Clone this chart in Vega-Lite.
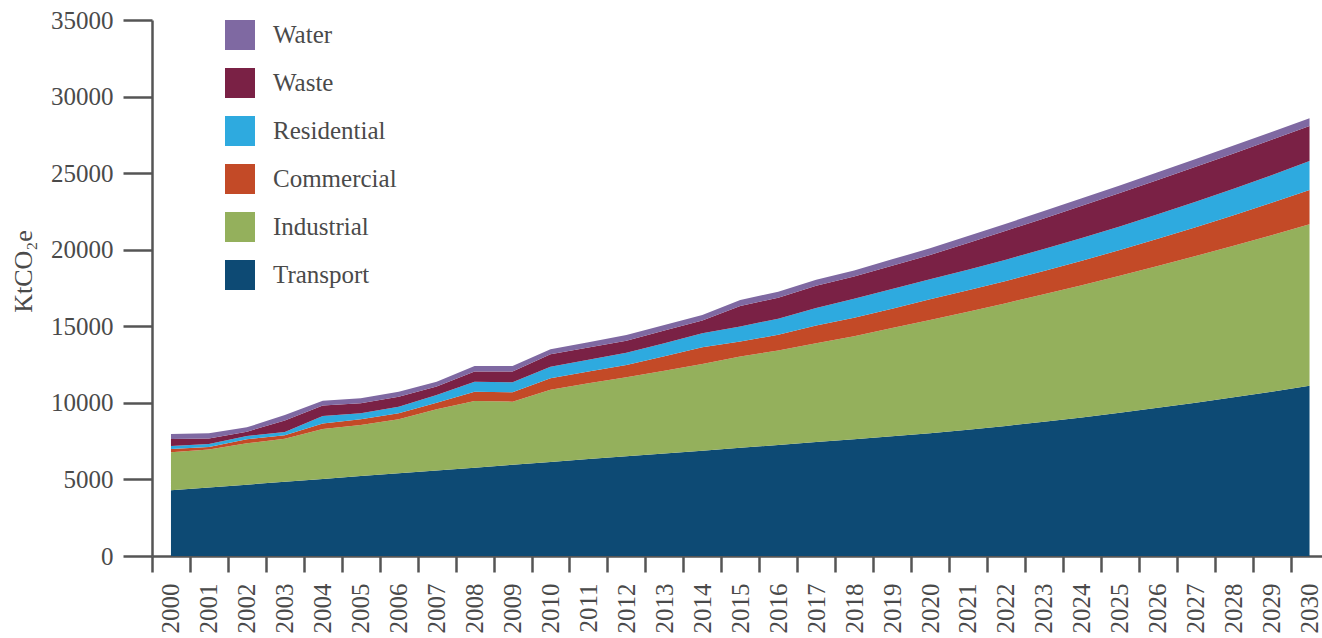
{
  "$schema": "https://vega.github.io/schema/vega-lite/v6.json",
  "width": 1170,
  "height": 536,
  "autosize": {"type": "none"},
  "padding": {"left": 152, "top": 20, "right": 0, "bottom": 82},
  "background": "white",
  "config": {
    "font": "Liberation Serif",
    "view": {"stroke": null}
  },
  "datasets": {
    "sectorOrder": [
      {"sector":"Transport","rank":1},{"sector":"Industrial","rank":2},{"sector":"Commercial","rank":3},{"sector":"Residential","rank":4},{"sector":"Waste","rank":5},{"sector":"Water","rank":6}
    ],
    "emissions": [
      {"year":2000,"sector":"Transport","value":4300},{"year":2000,"sector":"Industrial","value":2470},{"year":2000,"sector":"Commercial","value":220},{"year":2000,"sector":"Residential","value":190},{"year":2000,"sector":"Waste","value":460},{"year":2000,"sector":"Water","value":330},
      {"year":2001,"sector":"Transport","value":4480},{"year":2001,"sector":"Industrial","value":2480},{"year":2001,"sector":"Commercial","value":160},{"year":2001,"sector":"Residential","value":190},{"year":2001,"sector":"Waste","value":370},{"year":2001,"sector":"Water","value":330},
      {"year":2002,"sector":"Transport","value":4660},{"year":2002,"sector":"Industrial","value":2700},{"year":2002,"sector":"Commercial","value":260},{"year":2002,"sector":"Residential","value":220},{"year":2002,"sector":"Waste","value":280},{"year":2002,"sector":"Water","value":280},
      {"year":2003,"sector":"Transport","value":4850},{"year":2003,"sector":"Industrial","value":2810},{"year":2003,"sector":"Commercial","value":220},{"year":2003,"sector":"Residential","value":220},{"year":2003,"sector":"Waste","value":750},{"year":2003,"sector":"Water","value":360},
      {"year":2004,"sector":"Transport","value":5030},{"year":2004,"sector":"Industrial","value":3260},{"year":2004,"sector":"Commercial","value":370},{"year":2004,"sector":"Residential","value":480},{"year":2004,"sector":"Waste","value":680},{"year":2004,"sector":"Water","value":320},
      {"year":2005,"sector":"Transport","value":5220},{"year":2005,"sector":"Industrial","value":3330},{"year":2005,"sector":"Commercial","value":380},{"year":2005,"sector":"Residential","value":390},{"year":2005,"sector":"Waste","value":650},{"year":2005,"sector":"Water","value":330},
      {"year":2006,"sector":"Transport","value":5400},{"year":2006,"sector":"Industrial","value":3530},{"year":2006,"sector":"Commercial","value":390},{"year":2006,"sector":"Residential","value":430},{"year":2006,"sector":"Waste","value":650},{"year":2006,"sector":"Water","value":330},
      {"year":2007,"sector":"Transport","value":5590},{"year":2007,"sector":"Industrial","value":3990},{"year":2007,"sector":"Commercial","value":430},{"year":2007,"sector":"Residential","value":500},{"year":2007,"sector":"Waste","value":550},{"year":2007,"sector":"Water","value":320},
      {"year":2008,"sector":"Transport","value":5770},{"year":2008,"sector":"Industrial","value":4350},{"year":2008,"sector":"Commercial","value":610},{"year":2008,"sector":"Residential","value":650},{"year":2008,"sector":"Waste","value":660},{"year":2008,"sector":"Water","value":370},
      {"year":2009,"sector":"Transport","value":5960},{"year":2009,"sector":"Industrial","value":4120},{"year":2009,"sector":"Commercial","value":610},{"year":2009,"sector":"Residential","value":650},{"year":2009,"sector":"Waste","value":700},{"year":2009,"sector":"Water","value":370},
      {"year":2010,"sector":"Transport","value":6140},{"year":2010,"sector":"Industrial","value":4720},{"year":2010,"sector":"Commercial","value":740},{"year":2010,"sector":"Residential","value":750},{"year":2010,"sector":"Waste","value":830},{"year":2010,"sector":"Water","value":320},
      {"year":2011,"sector":"Transport","value":6330},{"year":2011,"sector":"Industrial","value":4950},{"year":2011,"sector":"Commercial","value":770},{"year":2011,"sector":"Residential","value":770},{"year":2011,"sector":"Waste","value":800},{"year":2011,"sector":"Water","value":340},
      {"year":2012,"sector":"Transport","value":6510},{"year":2012,"sector":"Industrial","value":5160},{"year":2012,"sector":"Commercial","value":800},{"year":2012,"sector":"Residential","value":810},{"year":2012,"sector":"Waste","value":780},{"year":2012,"sector":"Water","value":370},
      {"year":2013,"sector":"Transport","value":6700},{"year":2013,"sector":"Industrial","value":5400},{"year":2013,"sector":"Commercial","value":950},{"year":2013,"sector":"Residential","value":850},{"year":2013,"sector":"Waste","value":820},{"year":2013,"sector":"Water","value":370},
      {"year":2014,"sector":"Transport","value":6880},{"year":2014,"sector":"Industrial","value":5660},{"year":2014,"sector":"Commercial","value":1090},{"year":2014,"sector":"Residential","value":910},{"year":2014,"sector":"Waste","value":830},{"year":2014,"sector":"Water","value":370},
      {"year":2015,"sector":"Transport","value":7070},{"year":2015,"sector":"Industrial","value":5950},{"year":2015,"sector":"Commercial","value":980},{"year":2015,"sector":"Residential","value":980},{"year":2015,"sector":"Waste","value":1350},{"year":2015,"sector":"Water","value":390},
      {"year":2016,"sector":"Transport","value":7250},{"year":2016,"sector":"Industrial","value":6170},{"year":2016,"sector":"Commercial","value":1030},{"year":2016,"sector":"Residential","value":1050},{"year":2016,"sector":"Waste","value":1370},{"year":2016,"sector":"Water","value":390},
      {"year":2017,"sector":"Transport","value":7440},{"year":2017,"sector":"Industrial","value":6460},{"year":2017,"sector":"Commercial","value":1150},{"year":2017,"sector":"Residential","value":1150},{"year":2017,"sector":"Waste","value":1450},{"year":2017,"sector":"Water","value":390},
      {"year":2018,"sector":"Transport","value":7630},{"year":2018,"sector":"Industrial","value":6720},{"year":2018,"sector":"Commercial","value":1200},{"year":2018,"sector":"Residential","value":1250},{"year":2018,"sector":"Waste","value":1450},{"year":2018,"sector":"Water","value":400},
      {"year":2019,"sector":"Transport","value":7820},{"year":2019,"sector":"Industrial","value":7060},{"year":2019,"sector":"Commercial","value":1270},{"year":2019,"sector":"Residential","value":1280},{"year":2019,"sector":"Waste","value":1520},{"year":2019,"sector":"Water","value":420},
      {"year":2020,"sector":"Transport","value":8010},{"year":2020,"sector":"Industrial","value":7400},{"year":2020,"sector":"Commercial","value":1350},{"year":2020,"sector":"Residential","value":1310},{"year":2020,"sector":"Waste","value":1590},{"year":2020,"sector":"Water","value":430},
      {"year":2021,"sector":"Transport","value":8245},{"year":2021,"sector":"Industrial","value":7705},{"year":2021,"sector":"Commercial","value":1398},{"year":2021,"sector":"Residential","value":1346},{"year":2021,"sector":"Waste","value":1747},{"year":2021,"sector":"Water","value":449},
      {"year":2022,"sector":"Transport","value":8497},{"year":2022,"sector":"Industrial","value":8013},{"year":2022,"sector":"Commercial","value":1454},{"year":2022,"sector":"Residential","value":1388},{"year":2022,"sector":"Waste","value":1883},{"year":2022,"sector":"Water","value":467},
      {"year":2023,"sector":"Transport","value":8765},{"year":2023,"sector":"Industrial","value":8323},{"year":2023,"sector":"Commercial","value":1520},{"year":2023,"sector":"Residential","value":1434},{"year":2023,"sector":"Waste","value":2001},{"year":2023,"sector":"Water","value":483},
      {"year":2024,"sector":"Transport","value":9051},{"year":2024,"sector":"Industrial","value":8633},{"year":2024,"sector":"Commercial","value":1596},{"year":2024,"sector":"Residential","value":1484},{"year":2024,"sector":"Waste","value":2101},{"year":2024,"sector":"Water","value":497},
      {"year":2025,"sector":"Transport","value":9354},{"year":2025,"sector":"Industrial","value":8946},{"year":2025,"sector":"Commercial","value":1680},{"year":2025,"sector":"Residential","value":1540},{"year":2025,"sector":"Waste","value":2180},{"year":2025,"sector":"Water","value":500},
      {"year":2026,"sector":"Transport","value":9673},{"year":2026,"sector":"Industrial","value":9261},{"year":2026,"sector":"Commercial","value":1774},{"year":2026,"sector":"Residential","value":1600},{"year":2026,"sector":"Waste","value":2241},{"year":2026,"sector":"Water","value":515},
      {"year":2027,"sector":"Transport","value":10010},{"year":2027,"sector":"Industrial","value":9578},{"year":2027,"sector":"Commercial","value":1876},{"year":2027,"sector":"Residential","value":1666},{"year":2027,"sector":"Waste","value":2281},{"year":2027,"sector":"Water","value":519},
      {"year":2028,"sector":"Transport","value":10363},{"year":2028,"sector":"Industrial","value":9897},{"year":2028,"sector":"Commercial","value":1988},{"year":2028,"sector":"Residential","value":1736},{"year":2028,"sector":"Waste","value":2303},{"year":2028,"sector":"Water","value":519},
      {"year":2029,"sector":"Transport","value":10733},{"year":2029,"sector":"Industrial","value":10217},{"year":2029,"sector":"Commercial","value":2110},{"year":2029,"sector":"Residential","value":1810},{"year":2029,"sector":"Waste","value":2307},{"year":2029,"sector":"Water","value":515},
      {"year":2030,"sector":"Transport","value":11120},{"year":2030,"sector":"Industrial","value":10540},{"year":2030,"sector":"Commercial","value":2240},{"year":2030,"sector":"Residential","value":1890},{"year":2030,"sector":"Waste","value":2290},{"year":2030,"sector":"Water","value":500}
    ]
  },
  "data": {"name": "emissions"},
  "transform": [
    {"lookup": "sector", "from": {"data": {"name": "sectorOrder"}, "key": "sector", "fields": ["rank"]}}
  ],
  "mark": {"type": "area", "interpolate": "linear"},
  "encoding": {
    "x": {
      "field": "year",
      "type": "ordinal",
      "bandPosition": 0.5,
      "scale": {"type": "band", "paddingInner": 0, "paddingOuter": 0, "range": [0, 1176.5]},
      "axis": {
        "title": null,
        "tickBand": "extent",
        "labelAngle": -90,
        "labelFontSize": 25,
        "labelColor": "#4a4a4a",
        "labelPadding": 11,
        "tickSize": 16,
        "tickColor": "#555555",
        "tickWidth": 2.5,
        "domainColor": "#555555",
        "domainWidth": 2.5,
        "grid": false
      }
    },
    "y": {
      "field": "value",
      "type": "quantitative",
      "stack": "zero",
      "scale": {"domain": [0, 35000], "nice": false},
      "axis": {
        "title": "KtCO₂e",
        "titleFontSize": 26,
        "titleFontWeight": "normal",
        "titleColor": "#4a4a4a",
        "titlePadding": 14,
        "titleY": 251,
        "values": [0, 5000, 10000, 15000, 20000, 25000, 30000, 35000],
        "format": "d",
        "labelFontSize": 25,
        "labelColor": "#4a4a4a",
        "labelPadding": 10,
        "tickSize": 29,
        "tickColor": "#555555",
        "tickWidth": 2.5,
        "domainColor": "#555555",
        "domainWidth": 2.5,
        "grid": false
      }
    },
    "order": {"field": "rank", "type": "quantitative", "sort": "ascending"},
    "color": {
      "field": "sector",
      "type": "nominal",
      "scale": {
        "domain": ["Transport", "Industrial", "Commercial", "Residential", "Waste", "Water"],
        "range": ["#0d4a74", "#94b05c", "#c34a27", "#2eaadf", "#7a2145", "#7f69a2"]
      },
      "legend": {
        "title": null,
        "orient": "none",
        "legendX": 73,
        "legendY": 0,
        "padding": 0,
        "values": ["Water", "Waste", "Residential", "Commercial", "Industrial", "Transport"],
        "symbolType": "square",
        "symbolSize": 900,
        "symbolStrokeWidth": 0,
        "symbolOpacity": 1,
        "rowPadding": 18,
        "labelOffset": 18,
        "labelFontSize": 25,
        "labelColor": "#4a4a4a",
        "labelLimit": 300
      }
    }
  }
}
